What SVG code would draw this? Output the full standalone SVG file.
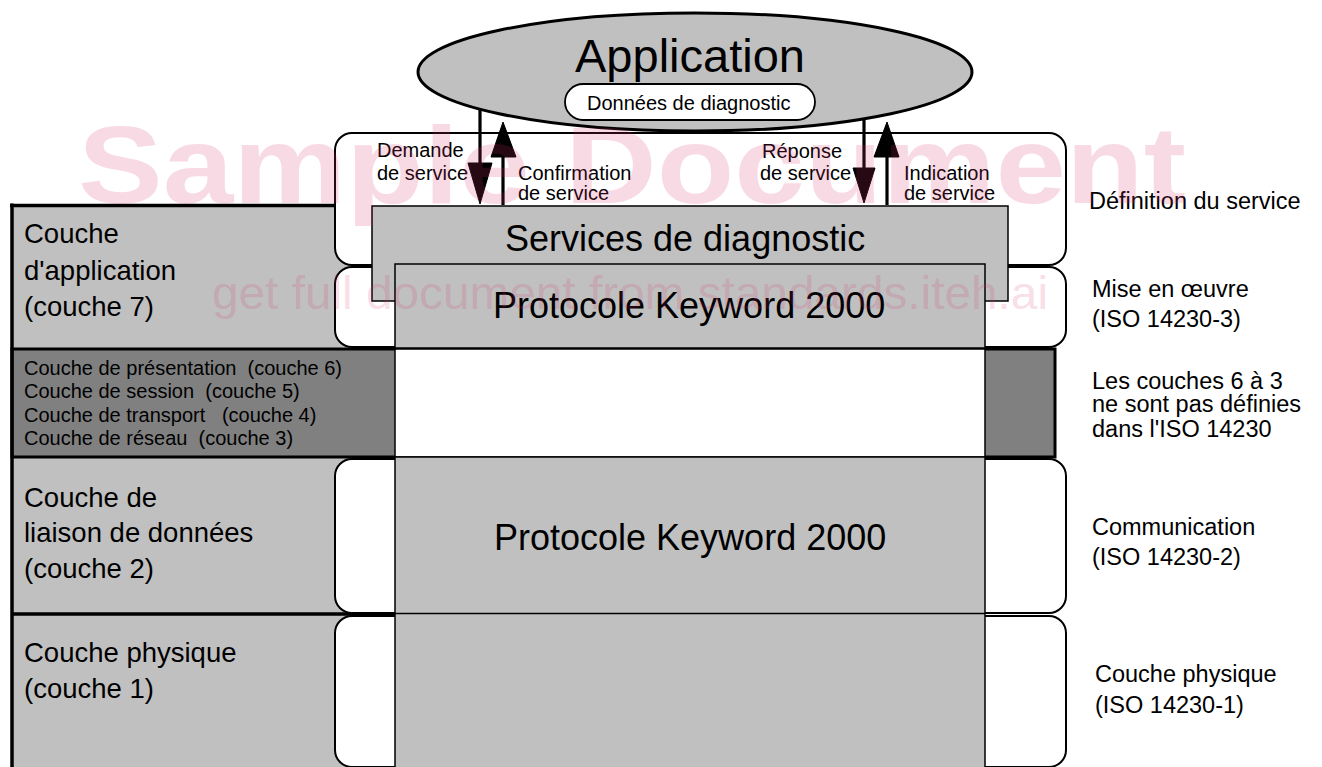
<svg xmlns="http://www.w3.org/2000/svg" width="1322" height="767" viewBox="0 0 1322 767">
<style>
text{font-family:"Liberation Sans",Arial,sans-serif;fill:#000}
.lg{fill:#c0c0c0}
.box{fill:#c0c0c0;stroke:#000;stroke-width:1.5}
.brk{fill:#fff;stroke:#000;stroke-width:2}
.thick{stroke:#000;stroke-width:3.5;fill:none}
.lbl{font-size:20px}
.rt{font-size:23.5px}
.lt{font-size:27.5px}
.st{font-size:20px}
.big{font-size:36px}
.wm{fill:#d6336c;fill-opacity:0.18}
.conn line{stroke:#000;stroke-width:3.2}
.conn polygon{fill:#000;stroke:#000;stroke-width:1}
</style>
<g id="left-column">
<rect class="lg" x="12" y="205" width="383" height="565"/>
<rect x="12" y="349" width="1043" height="108" fill="#808080" stroke="#000" stroke-width="3"/>
<line class="thick" x1="12" y1="203.5" x2="12" y2="770"/>
<line class="thick" x1="10" y1="205.5" x2="340" y2="205.5"/>
<line class="thick" x1="12" y1="614" x2="395" y2="614"/>
</g>
<g id="brackets">
<rect class="brk" x="335" y="133" width="731" height="132" rx="17"/>
<rect class="brk" x="335" y="267" width="731" height="80" rx="17"/>
<rect class="brk" x="335" y="459" width="731" height="154" rx="17"/>
<rect class="brk" x="335" y="616" width="731" height="151" rx="17"/>
</g>
<g id="services">
<rect class="box" x="372" y="206" width="636" height="95"/>
<text class="big" x="505" y="251">Services de diagnostic</text>
</g>
<g id="protocol-upper">
<rect class="box" x="395" y="264" width="590" height="84"/>
<text class="big" x="493" y="318">Protocole Keyword 2000</text>
</g>
<g id="layers-6-3-gap">
<rect x="395" y="349" width="590" height="108" fill="#fff" stroke="#000" stroke-width="1.5"/>
</g>
<g id="protocol-lower">
<rect class="box" x="395" y="457" width="590" height="320"/>
<line x1="395" y1="613.5" x2="985" y2="613.5" stroke="#000" stroke-width="1.5"/>
<text class="big" x="494" y="550">Protocole Keyword 2000</text>
</g>
<g id="application">
<ellipse cx="695" cy="72" rx="277" ry="59" fill="#c0c0c0" stroke="#000" stroke-width="3"/>
<text x="575" y="72" font-size="47" textLength="230" lengthAdjust="spacingAndGlyphs">Application</text>
</g>
<g id="donnees">
<rect x="565" y="84" width="250" height="36" rx="18" fill="#fff" stroke="#000" stroke-width="1.8"/>
<text x="587" y="110" font-size="20">Données de diagnostic</text>
</g>
<g id="layer-labels">
<text class="lt" x="24" y="243">Couche</text>
<text class="lt" x="24" y="280">d'application</text>
<text class="lt" x="24" y="316">(couche 7)</text>
<text class="st" x="24" y="375" xml:space="preserve">Couche de présentation  (couche 6)</text>
<text class="st" x="24" y="398" xml:space="preserve">Couche de session  (couche 5)</text>
<text class="st" x="24" y="422" xml:space="preserve">Couche de transport   (couche 4)</text>
<text class="st" x="24" y="445" xml:space="preserve">Couche de réseau  (couche 3)</text>
<text class="lt" x="24" y="507">Couche de</text>
<text class="lt" x="24" y="542">liaison de données</text>
<text class="lt" x="24" y="578">(couche 2)</text>
<text class="lt" x="24" y="662">Couche physique</text>
<text class="lt" x="24" y="698">(couche 1)</text>
</g>
<g id="right-labels">
<text class="rt" x="1089" y="209">Définition du service</text>
<text class="rt" x="1092" y="297">Mise en œuvre</text>
<text class="rt" x="1092" y="327">(ISO 14230-3)</text>
<text class="rt" x="1092" y="389">Les couches 6 à 3</text>
<text class="rt" x="1092" y="412">ne sont pas définies</text>
<text class="rt" x="1092" y="437">dans l'ISO 14230</text>
<text class="rt" x="1092" y="535">Communication</text>
<text class="rt" x="1092" y="565">(ISO 14230-2)</text>
<text class="rt" x="1095" y="682">Couche physique</text>
<text class="rt" x="1095" y="713">(ISO 14230-1)</text>
</g>
<g id="connectors" class="conn">
<line x1="480" y1="110" x2="480" y2="166"/>
<polygon points="468,163 492,163 480,204"/>
<line x1="503" y1="205" x2="503" y2="155"/>
<polygon points="491,157 516,157 503,122"/>
<line x1="864" y1="118" x2="864" y2="171"/>
<polygon points="853,168 875,168 864,203"/>
<line x1="887" y1="205" x2="887" y2="155"/>
<polygon points="874,157 899,157 887,122"/>
</g>
<g id="service-labels">
<text class="lbl" x="377" y="157">Demande</text>
<text class="lbl" x="377" y="180">de service</text>
<text class="lbl" x="518" y="180">Confirmation</text>
<text class="lbl" x="518" y="200">de service</text>
<text class="lbl" x="762" y="158">Réponse</text>
<text class="lbl" x="760" y="180">de service</text>
<text class="lbl" x="904" y="180">Indication</text>
<text class="lbl" x="904" y="200">de service</text>
</g>
<g id="watermark">
<text class="wm" x="78" y="203" font-size="110" font-weight="bold" textLength="1108" lengthAdjust="spacingAndGlyphs">Sample Document</text>
<text class="wm" x="212" y="309" font-size="47" textLength="836" lengthAdjust="spacingAndGlyphs">get full document from standards.iteh.ai</text>
</g>
</svg>
